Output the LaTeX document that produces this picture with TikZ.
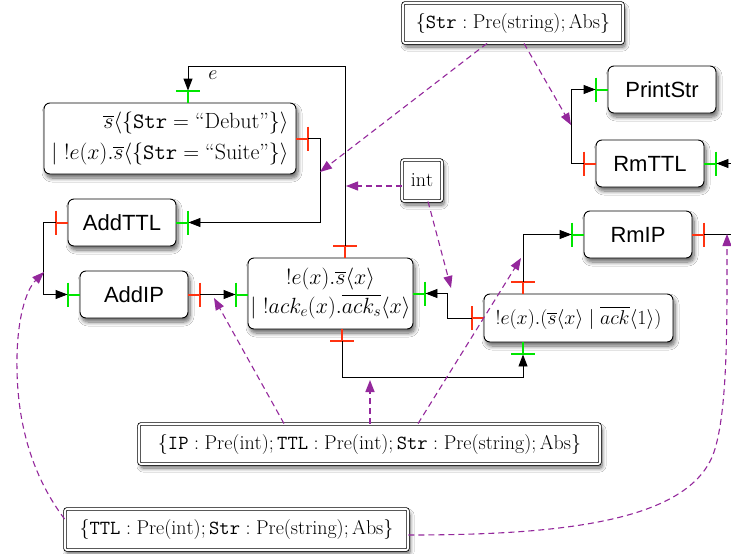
\RequirePackage{fix-cm}
\documentclass[tikz,border=0pt]{standalone}
\usepackage{amsmath}
\usepackage{fontspec}
\newfontfamily\hv{Liberation Sans}
\usetikzlibrary{arrows.meta,shadows,shadows.blur}
\definecolor{portred}{RGB}{255,51,17}
\definecolor{portgreen}{RGB}{0,230,0}
\definecolor{typepurple}{RGB}{148,40,156}
\newcommand\portE[3]{\draw[portline,#1] (#2) -- ++(12,0) coordinate (#3) ++(0,-12) -- ++(0,24);}
\newcommand\portW[3]{\draw[portline,#1] (#2) -- ++(-12,0) coordinate (#3) ++(0,-12) -- ++(0,24);}
\newcommand\portN[3]{\draw[portline,#1] (#2) -- ++(0,-12) coordinate (#3) ++(-12,0) -- ++(24,0);}
\newcommand\portS[3]{\draw[portline,#1] (#2) -- ++(0,12) coordinate (#3) ++(-12,0) -- ++(24,0);}
\begin{document}
\begin{tikzpicture}[x=1pt,y=-1pt,
  shadowed/.style={blur shadow={shadow xshift=2pt,shadow yshift=-4pt,shadow blur steps=8,shadow blur radius=4pt,shadow opacity=60}},
  proc/.style={draw,line width=0.9pt,rounded corners=6pt,fill=white,inner sep=0pt,shadowed,font=\hv\fontsize{22}{26}\selectfont},
  procm/.style={proc,font=\fontsize{20}{30}\selectfont},
  procbig/.style={proc,font=\fontsize{22}{30}\selectfont},
  typebox/.style={draw,double,double distance=1.8pt,line width=0.8pt,rounded corners=2pt,fill=white,inner sep=0pt,shadowed,font=\fontsize{20}{24}\selectfont},
  portline/.style={line width=2pt},
  conn/.style={line width=0.9pt,-{Triangle[length=12pt,width=9pt]}},
  wire/.style={line width=0.9pt},
  typeln/.style={typepurple,line width=1.1pt,dash pattern=on 6pt off 4pt,-{Triangle[length=12pt,width=9pt]}},
]
\fill[white] (0,0) rectangle (731,554);
\useasboundingbox (0,0) rectangle (731,554);

% nodes
\node[typebox,minimum width=220pt,minimum height=40pt] (top) at (513,23) {$\{\mathtt{Str} : \mathrm{Pre}(\mathrm{string}) ; \mathrm{Abs}\}$};
\node[typebox,minimum width=40pt,minimum height=41pt] (int) at (422,180.5) {$\mathrm{int}$};
\node[typebox,minimum width=461pt,minimum height=40pt] (ip) at (369.5,444) {$\{\mathtt{IP} : \mathrm{Pre}(\mathrm{int}) ; \mathtt{TTL} : \mathrm{Pre}(\mathrm{int}) ; \mathtt{Str} : \mathrm{Pre}(\mathrm{string}) ; \mathrm{Abs}\}$};
\node[typebox,minimum width=343pt,minimum height=41pt] (ttl) at (236.5,529.5) {$\{\mathtt{TTL} : \mathrm{Pre}(\mathrm{int}) ; \mathtt{Str} : \mathrm{Pre}(\mathrm{string}) ; \mathrm{Abs}\}$};

\node[procbig,minimum width=252pt,minimum height=71pt,align=right,font=\fontsize{22}{31}\selectfont] (deb) at (170,138.5)
  {$\overline{s}\langle\{\mathtt{Str} = \text{``Debut''}\}\rangle$\\ $\mid\ !e(x).\overline{s}\langle\{\mathtt{Str} = \text{``Suite''}\}\rangle$};
\node[proc,minimum width=108pt,minimum height=47pt] (addttl) at (122,222.5) {AddTTL};
\node[proc,minimum width=108pt,minimum height=47pt] (addip) at (134,294.5) {AddIP};
\node[procbig,minimum width=165pt,minimum height=71pt,align=center,font=\fontsize{22}{29}\selectfont] (mid) at (330.5,293.5)
  {$!e(x).\overline{s}\langle x\rangle$\\ $\mid\ !ack_e(x).\overline{ack_s}\langle x\rangle$};
\node[procm,minimum width=189pt,minimum height=48pt] (rbox) at (578.5,318)
  {$!e(x).(\overline{s}\langle x\rangle \mid \overline{ack}\langle 1\rangle)$};
\node[proc,minimum width=108pt,minimum height=47pt] (print) at (662,89.5) {PrintStr};
\node[proc,minimum width=108pt,minimum height=47pt] (rmttl) at (650,163.5) {RmTTL};
\node[proc,minimum width=108pt,minimum height=47pt] (rmip) at (638,234.5) {RmIP};
\node[font=\fontsize{20}{24}\selectfont] (elab) at (213,75) {$e$};

% ports
\portN{portred}{mid.north -| 345,0}{pMidT}
\portN{portgreen}{deb.north -| 188,0}{pDebT}
\portE{portred}{deb.east}{pDebE}
\portE{portgreen}{addttl.east}{pAddTTLE}
\portW{portred}{addttl.west}{pAddTTLW}
\portW{portgreen}{addip.west}{pAddIPW}
\portE{portred}{addip.east}{pAddIPE}
\portW{portgreen}{mid.west |- addip.east}{pMidW}
\portE{portgreen}{mid.east}{pMidE}
\portS{portred}{mid.south -| 342,0}{pMidB}
\portW{portred}{rbox.west}{pRW}
\portN{portred}{rbox.north -| 523,0}{pRT}
\portS{portgreen}{rbox.south -| 523,0}{pRB}
\portW{portgreen}{rmip.west}{pRmIPW}
\portE{portred}{rmip.east}{pRmIPE}
\portW{portred}{rmttl.west}{pRmTTLW}
\portE{portgreen}{rmttl.east}{pRmTTLE}
\portW{portgreen}{print.west}{pPrintW}

% wires
\coordinate (ebend) at (345,66);
\coordinate (offA) at (745,163.5);
\coordinate (offB) at (745,234.5);
\draw[conn] (pMidT) -- (ebend) -| (pDebT);
\draw[conn] (pDebE) -- ++(12,0) |- (pAddTTLE);
\draw[conn] (pAddTTLW) -- ++(-12,0) |- (pAddIPW);
\draw[conn] (pAddIPE) -- (pMidW);
\draw[conn] (pRW) -- ++(-24,0) |- (pMidE);
\draw[conn] (pRT) |- (pRmIPW);
\draw[conn] (pMidB) -- ++(0,36) -| (pRB);
\draw[conn] (pRmTTLW) -- ++(-12,0) |- (pPrintW);
\draw[conn] (offA) -- (pRmTTLE);
\draw[wire] (pRmIPE) -- (offB);

% type links
\coordinate (tA) at (320,172);
\coordinate (tB) at (571,125);
\coordinate (tC) at (346,186);
\coordinate (tD) at (451,288);
\coordinate (tE) at (214,298);
\coordinate (tF) at (370,380);
\coordinate (tG) at (521,258);
\coordinate (tH) at (44,272);
\coordinate (tI) at (727,234);
\draw[typeln] (top.south -| 487,0) -- (tA);
\draw[typeln] (top.south -| 524,0) -- (tB);
\draw[typeln] (int.west |- 0,186) -- (tC);
\draw[typeln] (int.south -| 428,0) -- (tD);
\draw[typeln] (ip.north -| 284,0) -- (tE);
\draw[typeln,line width=1.5pt] (ip.north -| 370,0) -- (tF);
\draw[typeln] (ip.north -| 418,0) -- (tG);
\draw[typeln] (ttl.west |- 0,519) .. controls (35,480) and (18,430) .. (17,370) .. controls (16,320) and (26,290) .. (tH);
\draw[typeln] (ttl.east |- 0,535) .. controls (560,535) and (690,522) .. (714,452) .. controls (728,410) and (727,320) .. (tI);
\end{tikzpicture}
\end{document}
